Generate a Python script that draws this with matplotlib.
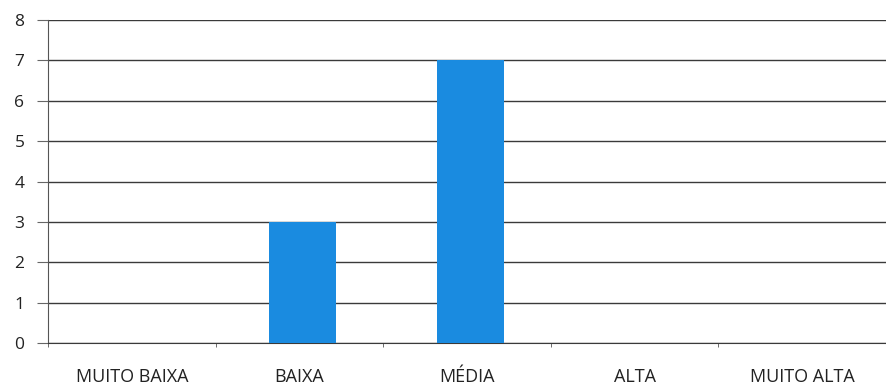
import matplotlib.pyplot as plt
import numpy as np

categorias = ["MUITO BAIXA", "BAIXA", "MÉDIA", "ALTA", "MUITO ALTA"]
valores = [0, 3, 7, 0, 0]

plt.rcParams['font.family'] = ['Open Sans', 'DejaVu Sans']

fig = plt.figure(figsize=(8.87, 3.90), dpi=100)
ax = fig.add_axes([48 / 887, 1 - 343 / 390, 838 / 887, (343 - 20) / 390])

x = np.arange(len(categorias))
ax.bar(x + 0.02, valores, width=0.40, color="#1a8be0", zorder=3)

ax.set_xlim(-0.5, len(categorias) - 0.5)
ax.set_ylim(0, 8)
ax.set_yticks(range(0, 9))
ax.yaxis.grid(True, color="#3a3a3a", linewidth=1.0, zorder=0)

ax.set_xticks(x)
ax.set_xticklabels(categorias, fontsize=13, color="#222222")
ax.set_xticks(np.arange(-0.5, len(categorias)), minor=True)
ax.tick_params(axis="x", which="major", length=0, pad=18)
ax.tick_params(axis="x", which="minor", length=3, color="#555555")
ax.tick_params(axis="y", length=8, color="#666666", labelsize=12.5, labelcolor="#222222", pad=9)

for s in ["top", "right"]:
    ax.spines[s].set_visible(False)
ax.spines["left"].set_color("#555555")
ax.spines["bottom"].set_color("#3a3a3a")

fig.savefig("out.png", dpi=100)
